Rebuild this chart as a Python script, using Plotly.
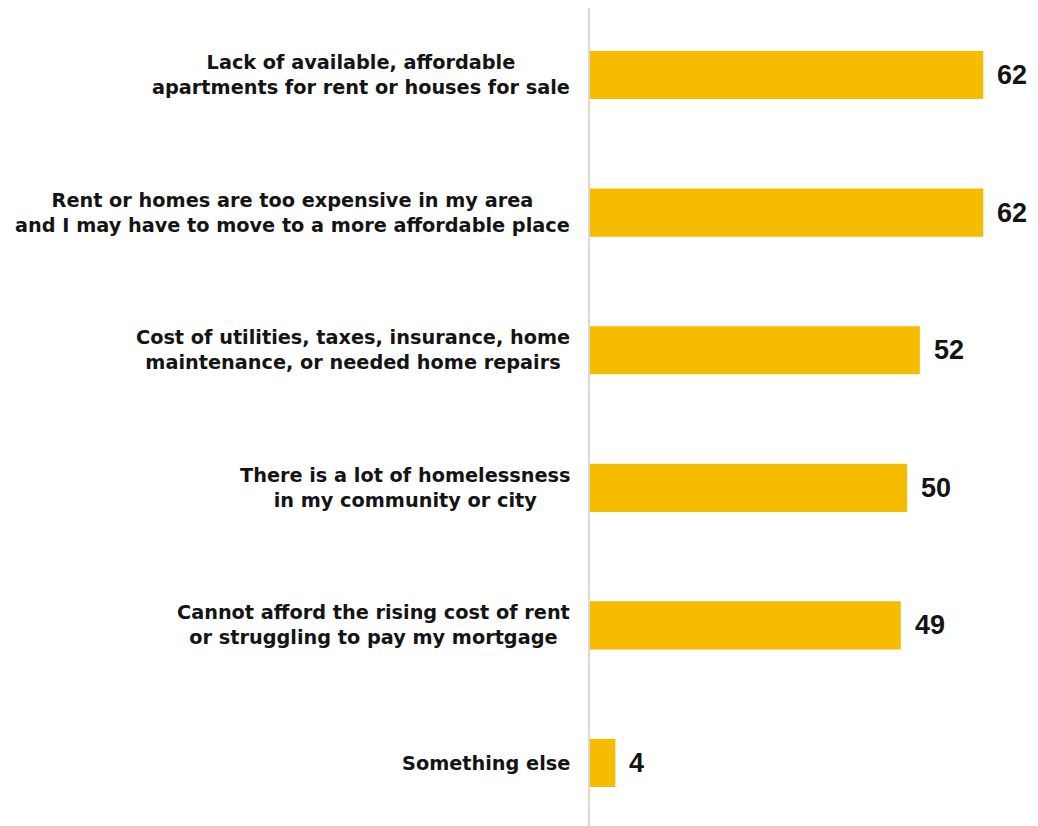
import plotly.graph_objects as go

categories = [
    "Lack of available, affordable<br>apartments for rent or houses for sale",
    "Rent or homes are too expensive in my area<br>and I may have to move to a more affordable place",
    "Cost of utilities, taxes, insurance, home<br>maintenance, or needed home repairs",
    "There is a lot of homelessness<br>in my community or city",
    "Cannot afford the rising cost of rent<br>or struggling to pay my mortgage",
    "Something else",
]
values = [62, 62, 52, 50, 49, 4]

BAR = "#F5BC00"
TXT = "#141414"
FONT = "Liberation Sans, Arial, sans-serif"
LFONT = "DejaVu Sans, Liberation Sans, sans-serif"

fig = go.Figure()
fig.add_trace(go.Bar(
    x=values,
    y=list(range(len(categories))),
    orientation="h",
    marker=dict(color=BAR, line=dict(width=0)),
    width=0.35,
    cliponaxis=False,
    hoverinfo="skip",
))

for i, (c, v) in enumerate(zip(categories, values)):
    fig.add_annotation(
        x=0, y=i, xref="x", yref="y",
        text="<b>" + c + "</b>",
        showarrow=False,
        xanchor="right", yanchor="middle",
        align="center",
        xshift=-18,
        font=dict(family=LFONT, size=19.3, color=TXT),
    )
    fig.add_annotation(
        x=v, y=i, xref="x", yref="y",
        text="<b>" + str(v) + "</b>",
        showarrow=False,
        xanchor="left", yanchor="middle",
        xshift=12,
        font=dict(family=FONT, size=27, color=TXT),
    )

fig.update_layout(
    width=1038, height=826,
    margin=dict(l=582, r=12, t=0, b=0),
    paper_bgcolor="white", plot_bgcolor="white",
    showlegend=False,
    xaxis=dict(range=[0, 70], visible=False, showgrid=False, zeroline=False),
    yaxis=dict(range=[5.516, -0.487], showticklabels=False, showgrid=False,
               zeroline=False, showline=True, linecolor="#d9d9d9", linewidth=1.5,
               ticks=""),
)

fig.write_html("out.html")
